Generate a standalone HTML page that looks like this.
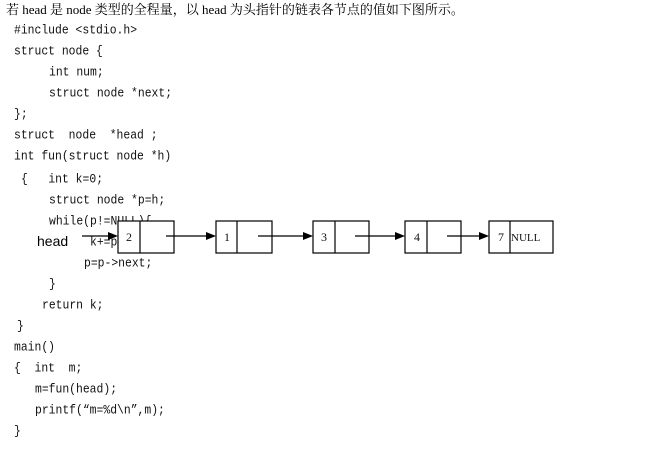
<!DOCTYPE html>
<html><head><meta charset="utf-8"><style>
body{margin:0;width:665px;height:472px;background:#fff;position:relative;overflow:hidden}
.t{position:absolute;font-family:"Liberation Mono","Noto Serif CJK SC",monospace;font-size:11.4px;color:#111;white-space:pre;line-height:14px;transform:scaleY(1.15);transform-origin:0 50%}
.c{position:absolute;font-family:"Liberation Serif","Noto Serif CJK SC",serif;font-size:13px;white-space:pre;line-height:16px}
svg{position:absolute;left:0;top:0}
</style></head><body>
<div class="c" style="left:6px;top:2px">若 head 是 node 类型的全程量，以 head 为头指针的链表各节点的值如下图所示。</div>
<div class="t" style="left:14px;top:24px">#include &lt;stdio.h&gt;</div>
<div class="t" style="left:14px;top:45px">struct node {</div>
<div class="t" style="left:49px;top:66px">int num;</div>
<div class="t" style="left:49px;top:87px">struct node *next;</div>
<div class="t" style="left:14px;top:108px">};</div>
<div class="t" style="left:14px;top:129px">struct  node  *head ;</div>
<div class="t" style="left:14px;top:150px">int fun(struct node *h)</div>
<div class="t" style="left:21px;top:173px">{   int k=0;</div>
<div class="t" style="left:49px;top:194px">struct node *p=h;</div>
<div class="t" style="left:49px;top:215px">while(p!=NULL){</div>
<div class="t" style="left:90px;top:236px">k+=p</div>
<div class="t" style="left:84px;top:257px">p=p-&gt;next;</div>
<div class="t" style="left:49px;top:278px">}</div>
<div class="t" style="left:42px;top:299px">return k;</div>
<div class="t" style="left:17px;top:320px">}</div>
<div class="t" style="left:14px;top:341px">main()</div>
<div class="t" style="left:14px;top:362px">{  int  m;</div>
<div class="t" style="left:35px;top:383px">m=fun(head);</div>
<div class="t" style="left:35px;top:404px">printf(“m=%d\n”,m);</div>
<div class="t" style="left:14px;top:425px">}</div>
<svg width="665" height="472" viewBox="0 0 665 472">
<g fill="#fff" stroke="#000" stroke-width="1.2">
<rect x="118" y="221" width="56" height="32"/><line x1="140" y1="221" x2="140" y2="253"/>
<rect x="216" y="221" width="56" height="32"/><line x1="237" y1="221" x2="237" y2="253"/>
<rect x="313" y="221" width="56" height="32"/><line x1="335" y1="221" x2="335" y2="253"/>
<rect x="405" y="221" width="56" height="32"/><line x1="427" y1="221" x2="427" y2="253"/>
<rect x="489" y="221" width="64" height="32"/><line x1="510" y1="221" x2="510" y2="253"/>
</g>
<g stroke="#000" stroke-width="1.2">
<line x1="82" y1="236" x2="110" y2="236"/>
<line x1="166" y1="236" x2="208" y2="236"/>
<line x1="258" y1="236" x2="305" y2="236"/>
<line x1="355" y1="236" x2="397" y2="236"/>
<line x1="447" y1="236" x2="481" y2="236"/>
</g>
<g fill="#000">
<polygon points="118,236 108,232 108,240"/>
<polygon points="216,236 206,232 206,240"/>
<polygon points="313,236 303,232 303,240"/>
<polygon points="405,236 395,232 395,240"/>
<polygon points="489,236 479,232 479,240"/>
</g>
<g font-family="Liberation Serif,serif" font-size="12" fill="#111">
<text x="126" y="241">2</text><text x="224" y="241">1</text><text x="321" y="241">3</text><text x="414" y="241">4</text><text x="498" y="241">7</text>
<text x="511" y="241" font-size="11">NULL</text>
</g>
<text x="37" y="246" font-family="Liberation Sans,sans-serif" font-size="14" fill="#000">head</text>
</svg>
</body></html>
